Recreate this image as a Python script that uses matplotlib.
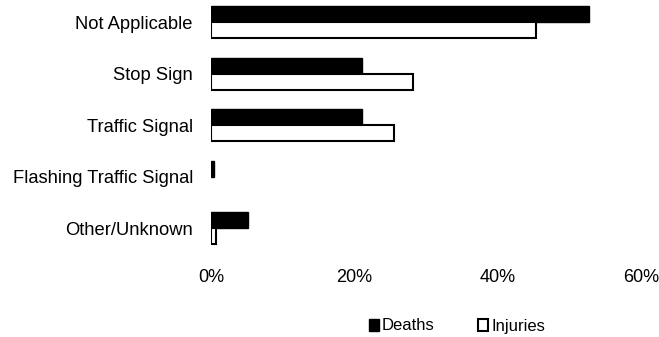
import matplotlib
matplotlib.use("Agg")
import matplotlib.pyplot as plt
import numpy as np
from matplotlib.ticker import FuncFormatter
from matplotlib.patches import Patch

categories = ["Not Applicable", "Stop Sign", "Traffic Signal", "Flashing Traffic Signal", "Other/Unknown"]
deaths = [52.7, 21.0, 21.0, 0.4, 5.2]
injuries = [45.4, 28.2, 25.5, 0.0, 0.7]
xticks = [0, 20, 40, 60]

plt.rcParams['font.family'] = ['Liberation Sans', 'DejaVu Sans']

W, H = 659, 337
fig = plt.figure(figsize=(W / 100, H / 100), dpi=100)
left, right, top, bottom = 211, 641, 0, 254
ax = fig.add_axes([left / W, 1 - bottom / H, (right - left) / W, (bottom - top) / H])

y = np.arange(len(categories))
h = 0.31
ax.barh(y - h / 2, deaths, height=h, color='black', edgecolor='black', linewidth=1.0, label='Deaths')
inj_edges = ['black' if v > 0 else 'none' for v in injuries]
ax.barh(y + h / 2, injuries, height=h, color='white', edgecolor=inj_edges, linewidth=1.5, label='Injuries')

ax.set_xlim(0, 60)
ax.set_ylim(4.5, -0.43)
ax.set_yticks(y)
ax.set_yticklabels(categories, fontsize=13.2)
ax.set_xticks(xticks)
ax.xaxis.set_major_formatter(FuncFormatter(lambda v, p: f"{int(v)}%"))
ax.tick_params(axis='x', length=0, pad=11, labelsize=13.1)
ax.tick_params(axis='y', length=0, pad=13)
for s in ax.spines.values():
    s.set_visible(False)

handles = [Patch(facecolor='black', edgecolor='black', label='Deaths'),
           Patch(facecolor='white', edgecolor='black', linewidth=1.5, label='Injuries')]
leg = fig.legend(handles=handles, loc='center', bbox_to_anchor=(457 / W, 1 - 326 / H), ncol=2, frameon=False,
                 fontsize=12, handlelength=0.6, handleheight=0.75, handletextpad=0.2,
                 columnspacing=2.6)

fig.savefig("out.png", dpi=100)
